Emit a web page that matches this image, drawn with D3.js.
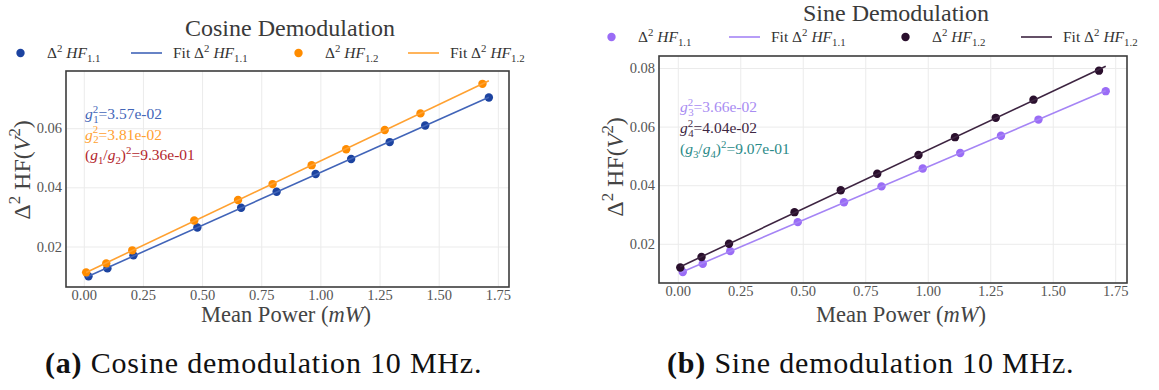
<!DOCTYPE html>
<html>
<head>
<meta charset="utf-8">
<script src="https://cdn.jsdelivr.net/npm/d3@7"></script>
<style>
  body { margin: 0; background: #fff; }
  svg { display: block; font-family: "Liberation Serif", "DejaVu Serif", serif; }
</style>
</head>
<body>
<div id="chart"></div>
<script>
/* ============================================= */
/* Data */
/* ============================================= */

// mean optical power (mW) of each measurement, per photodiode
const powerHF11 = [0.02, 0.10, 0.21, 0.48, 0.665, 0.815, 0.98, 1.13, 1.293, 1.443, 1.712];
const powerHF12 = [0.01, 0.095, 0.205, 0.467, 0.652, 0.798, 0.963, 1.109, 1.272, 1.423, 1.685];

// Δ² HF (V²)
const cosHF11 = [0.0099, 0.0126, 0.0170, 0.0264, 0.0331, 0.0385, 0.0445, 0.0496, 0.0553, 0.0609, 0.0704];
const cosHF12 = [0.01125, 0.0143, 0.0187, 0.0288, 0.0357, 0.0411, 0.0475, 0.0529, 0.0594, 0.0650, 0.0750];
const sinHF11 = [0.0104, 0.0132, 0.0175, 0.0274, 0.0342, 0.0396, 0.0457, 0.0510, 0.0569, 0.0624, 0.0721];
const sinHF12 = [0.0119, 0.0155, 0.0200, 0.0308, 0.0383, 0.0439, 0.0503, 0.0564, 0.0630, 0.0692, 0.0791];

const xTicks = [0, 0.25, 0.5, 0.75, 1.0, 1.25, 1.5, 1.75];
const cosYTicks = [0.02, 0.04, 0.06];
const sinYTicks = [0.02, 0.04, 0.06, 0.08];

const cosGains = ['3.57e-02', '3.81e-02', '9.36e-01'];
const sinGains = ['3.66e-02', '4.04e-02', '9.07e-01'];

const titles = ['Cosine Demodulation', 'Sine Demodulation'];
const captions = [['(a)', ' Cosine demodulation 10 MHz.'], ['(b)', ' Sine demodulation 10 MHz.']];

/* ============================================= */
/* Helpers */
/* ============================================= */

const W = 1159, H = 390;
const svg = d3.select('#chart').append('svg')
    .attr('width', W)
    .attr('height', H);

// writes mathtext-like pieces (italic, sub/superscripts) into a text element
function rich(sel, parts, size) {
    let shift = 0;
    parts.forEach(p => {
        const target = p.sup ? -0.4 * size : p.sub ? 0.25 * size : 0;
        const ts = sel.append('tspan').text(p.t).attr('dy', target - shift);
        shift = target;
        if (p.sup || p.sub) ts.attr('font-size', size * 0.7);
        if (p.i) ts.attr('font-style', 'italic');
        if (p.b) ts.attr('font-weight', 'bold');
        if (p.dx) ts.attr('dx', p.dx);
    });
    return sel;
}

function hfLabel(sub, fit) {
    return [
        { t: (fit ? 'Fit ' : '') + 'Δ' }, { t: '2', sup: true }, { t: ' ' },
        { t: 'HF', i: true }, { t: sub, sub: true }
    ];
}

function linFit(xs, ys) {
    const mx = d3.mean(xs), my = d3.mean(ys);
    const sxy = d3.sum(xs, (x, i) => (x - mx) * (ys[i] - my));
    const sxx = d3.sum(xs, x => (x - mx) * (x - mx));
    const m = sxy / sxx;
    return { m: m, b: my - m * mx };
}

/* ============================================= */
/* One panel */
/* ============================================= */

function drawPanel(cfg) {
    const g = svg.append('g');
    const p = cfg.plot;

    const allX = cfg.series.flatMap(s => s.x);
    const xExt = d3.extent(allX);
    const fits = cfg.series.map(s => linFit(s.x, s.y));
    const allY = cfg.series.flatMap(s => s.y)
        .concat(fits.flatMap(f => xExt.map(x => f.m * x + f.b)));
    const yExt = d3.extent(allY);
    const padX = (xExt[1] - xExt[0]) * 0.05, padY = (yExt[1] - yExt[0]) * 0.05;

    const x = d3.scaleLinear().domain([xExt[0] - padX, xExt[1] + padX]).range([p.l, p.r]);
    const y = d3.scaleLinear().domain([yExt[0] - padY, yExt[1] + padY]).range([p.b, p.t]);

    // grid + ticks
    const xAxis = g.append('g')
        .attr('transform', `translate(0,${p.b})`)
        .call(d3.axisBottom(x).tickValues(xTicks).tickFormat(d3.format('.2f'))
            .tickSize(-(p.b - p.t)).tickPadding(3));
    const yAxis = g.append('g')
        .attr('transform', `translate(${p.l},0)`)
        .call(d3.axisLeft(y).tickValues(cfg.yTicks).tickFormat(d3.format('.2f'))
            .tickSize(-(p.r - p.l)).tickPadding(4));
    [xAxis, yAxis].forEach(a => {
        a.attr('font-family', null);
        a.select('.domain').remove();
        a.selectAll('.tick line').attr('stroke', '#ebebeb').attr('stroke-width', 1);
        a.selectAll('.tick text')
            .attr('fill', '#555')
            .style('font-family', '"Liberation Serif", serif')
            .style('font-size', '14.5px');
    });

    // series
    const line = d3.line().x(d => x(d[0])).y(d => y(d[1]));
    cfg.series.forEach((s, i) => {
        const f = fits[i];
        g.selectAll(null)
            .data(d3.zip(s.x, s.y))
            .enter().append('circle')
            .attr('cx', d => x(d[0]))
            .attr('cy', d => y(d[1]))
            .attr('r', 4.2)
            .attr('fill', s.dot);
        g.append('path')
            .attr('d', line(xExt.map(v => [v, f.m * v + f.b])))
            .attr('fill', 'none')
            .attr('stroke', s.line)
            .attr('stroke-width', 1.6);
    });

    // frame
    g.append('rect')
        .attr('x', p.l).attr('y', p.t)
        .attr('width', p.r - p.l).attr('height', p.b - p.t)
        .attr('fill', 'none')
        .attr('stroke', '#3c3c3c')
        .attr('stroke-width', 1.6);

    // gain annotations
    cfg.notes.forEach((n, i) => {
        rich(g.append('text')
            .attr('x', cfg.note.x)
            .attr('y', cfg.note.y + i * cfg.note.dy)
            .attr('fill', n.color)
            .attr('font-size', 15.5), n.parts, 15.5);
    });

    // title
    g.append('text')
        .attr('x', cfg.title.x).attr('y', cfg.title.y)
        .attr('text-anchor', 'middle')
        .attr('fill', '#3a3a3a')
        .attr('font-size', 24)
        .text(cfg.title.text);

    // legend: four entries (dots, fit, dots, fit), handle 31px wide
    const ly = cfg.legend.y;
    cfg.series.forEach((s, i) => {
        [false, true].forEach((fit, j) => {
            const k = i * 2 + j;
            const hx = cfg.legend.handles[k];
            if (fit) {
                g.append('line')
                    .attr('x1', hx).attr('x2', hx + 31)
                    .attr('y1', ly).attr('y2', ly)
                    .attr('stroke', s.line).attr('stroke-width', 1.6);
            } else {
                g.append('circle')
                    .attr('cx', hx + 15.5).attr('cy', ly).attr('r', 4.2)
                    .attr('fill', s.dot);
            }
            rich(g.append('text')
                .attr('x', hx + 42).attr('y', ly + 5)
                .attr('fill', '#333')
                .attr('font-size', 15.5), hfLabel(s.name, fit), 15.5);
        });
    });

    // axis labels
    rich(g.append('text')
        .attr('x', cfg.xLabel.x).attr('y', cfg.xLabel.y)
        .attr('text-anchor', 'middle')
        .attr('fill', '#444')
        .attr('font-size', 22.5),
        [{ t: 'Mean Power (' }, { t: 'mW', i: true }, { t: ')' }], 22.5);

    rich(g.append('text')
        .attr('transform', `translate(${cfg.yLabel.x},${cfg.yLabel.y}) rotate(-90)`)
        .attr('text-anchor', 'middle')
        .attr('fill', '#444')
        .attr('font-size', 24),
        [{ t: 'Δ' }, { t: '2', sup: true }, { t: ' HF(' }, { t: 'V', i: true }, { t: '2', sup: true }, { t: ')' }], 24);

    // caption
    rich(g.append('text')
        .attr('x', cfg.caption.x).attr('y', cfg.caption.y)
        .attr('fill', '#111')
        .attr('font-size', 30)
        .attr('letter-spacing', 0.8),
        [{ t: cfg.caption.text[0], b: true }, { t: cfg.caption.text[1] }], 30);
}

function gainNotes(vals, a, b, colors) {
    return [
        { color: colors[0], parts: [{ t: 'g', i: true }, { t: '2', sup: true }, { t: a, sub: true, dx: -5 }, { t: '=' + vals[0] }] },
        { color: colors[1], parts: [{ t: 'g', i: true }, { t: '2', sup: true }, { t: b, sub: true, dx: -5 }, { t: '=' + vals[1] }] },
        { color: colors[2], parts: [{ t: '(' }, { t: 'g', i: true }, { t: a, sub: true }, { t: '/' }, { t: 'g', i: true }, { t: b, sub: true }, { t: ')' }, { t: '2', sup: true }, { t: '=' + vals[2] }] }
    ];
}

/* ============================================= */
/* Panels */
/* ============================================= */

drawPanel({
    plot: { l: 66, r: 509, t: 71, b: 287 },
    yTicks: cosYTicks,
    series: [
        { name: '1.1', x: powerHF11, y: cosHF11, dot: '#1c43a0', line: '#4164b8' },
        { name: '1.2', x: powerHF12, y: cosHF12, dot: '#ff8c00', line: '#ffa131' }
    ],
    notes: gainNotes(cosGains, '1', '2', ['#4366b8', '#ffa131', '#b3262c']),
    note: { x: 85, y: 119, dy: 20.5 },
    title: { x: 290, y: 36, text: titles[0] },
    legend: { y: 53, handles: [5, 131, 283, 408] },
    xLabel: { x: 286, y: 322 },
    yLabel: { x: 30, y: 170 },
    caption: { x: 45, y: 373, text: captions[0] }
});

drawPanel({
    plot: { l: 659, r: 1127, t: 56, b: 283 },
    yTicks: sinYTicks,
    series: [
        { name: '1.1', x: powerHF11, y: sinHF11, dot: '#9a6cf6', line: '#a584f5' },
        { name: '1.2', x: powerHF12, y: sinHF12, dot: '#2a0f2d', line: '#3d2441' }
    ],
    notes: gainNotes(sinGains, '3', '4', ['#a88cf2', '#3e2743', '#2b8a88']),
    note: { x: 680, y: 112, dy: 21 },
    title: { x: 896, y: 21, text: titles[1] },
    legend: { y: 37, handles: [596, 729, 890, 1021] },
    xLabel: { x: 901, y: 322 },
    yLabel: { x: 623, y: 167 },
    caption: { x: 667, y: 373, text: captions[1] }
});
</script>
</body>
</html>
